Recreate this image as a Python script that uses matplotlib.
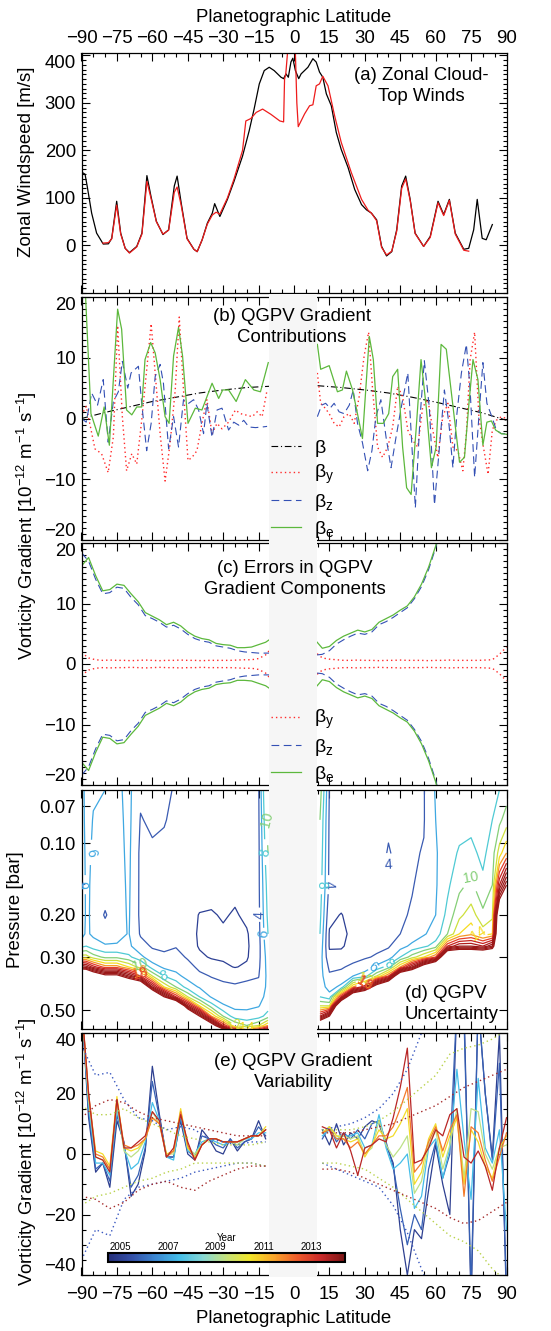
import numpy as np
import matplotlib
matplotlib.use('Agg')
import matplotlib.pyplot as plt
from matplotlib import colors, colorbar
from matplotlib.ticker import MultipleLocator, FixedLocator, NullLocator, FormatStrFormatter

plt.rcParams['font.family'] = ['Liberation Sans', 'DejaVu Sans']
plt.rcParams['mathtext.fontset'] = 'custom'
plt.rcParams['mathtext.rm'] = 'Liberation Sans'
plt.rcParams['mathtext.it'] = 'Liberation Sans:italic'
plt.rcParams['mathtext.bf'] = 'Liberation Sans:bold'

# ---------------- (a) zonal winds ----------------
wa_lat_black = [-89.5, -88.5, -87.6, -85.7, -83.6, -80.8, -78.6, -77.2, -75.1, -73.4, -71.5, -69.7,
                -66.6, -64.4, -62.3, -60.6, -58.3, -55.5, -53.1, -50.7, -49.5, -47.8, -45.3, -42.4,
                -41.0, -38.9, -36.7, -34.6, -33.6, -31.4, -28.2, -25.4, -21.8, -19.0, -16.9, -14.7,
                -12.6, -10.5, -8.4, -5.5, -4.4, -3.4, -2.4, -1.3, -0.5, 0.6, 2.0, 3.0, 5.9, 8.0, 9.4,
                10.8, 12.2, 13.7, 15.8, 17.9, 20.0, 22.9, 25.7, 28.6, 30.7, 32.8, 35.0, 37.1, 39.2,
                41.4, 43.5, 45.6, 47.3, 49.2, 51.3, 54.9, 57.7, 61.0, 63.4, 65.8, 68.3, 71.9, 74.0,
                76.1, 77.6, 79.7, 81.4, 84.0]
wa_black = [153, 150, 125, 68, 26, 3, 3.5, 15, 93, 26, -6, -15, -2, 26, 147, 104, 51, 23, 33, 125,
            146, 90, 15, -8, -13, 12, 47, 68, 88, 61, 97, 135, 188, 241, 287, 340, 368, 375, 368,
            354, 351, 361, 354, 386, 394, 368, 351, 361, 375, 393, 386, 365, 354, 319, 294, 238,
            202, 164, 118, 86, 75, 68, 54, -2, -22, -13, 33, 125, 146, 97, 26, -2, 19, 93, 65, 97,
            26, -8, -6, 33, 97, 15, 12, 44]
wa_lat_red = [-81.0, -78.6, -77.2, -75.1, -73.4, -71.5, -69.7, -66.6, -64.4, -62.3, -60.6, -58.3,
              -55.5, -53.1, -50.7, -49.5, -47.8, -45.3, -42.4, -41.0, -38.9, -36.7, -34.6, -33.0,
              -31.4, -28.2, -25.4, -21.8, -20.4, -18.3, -16.0, -13.3, -9.8, -6.0, -4.4, -4.0, -3.5,
              -2.5, -1.5, -0.5, 0.5, 1.2, 1.8, 3.0, 4.5, 6.6, 8.0, 9.4, 10.8, 12.2, 14.4, 17.2,
              20.0, 24.3, 28.6, 31.4, 32.8, 35.0, 37.1, 39.2, 41.4, 43.5, 45.6, 47.3, 49.2, 51.3,
              54.9, 57.7, 61.0, 63.4, 65.8, 68.3, 71.9, 74.0]
wa_red = [5, 6, 14, 85, 24, -6, -16, -3, 24, 135, 100, 50, 24, 32, 112, 123, 85, 14, -8, -13, 12,
          45, 64, 70, 66, 100, 140, 200, 262, 267, 280, 287, 276, 262, 260, 350, 360, 420, 430, 430,
          420, 300, 250, 262, 277, 294, 296, 336, 340, 356, 336, 273, 217, 153, 97, 74, 68, 52, -4,
          -20, -12, 30, 120, 140, 95, 25, -2, 17, 90, 63, 95, 24, -10, -12]

# ---------------- (b) QGPV gradient contributions ----------------
beta_lat = [-90, -80, -70, -60, -50, -40, -30, -20, -10.5, 10, 20, 30, 40, 50, 60, 70, 80, 90]
beta_val = [0.0, 1.0, 1.9, 2.8, 3.5, 4.2, 4.7, 5.1, 5.3, 5.4, 5.1, 4.7, 4.2, 3.5, 2.7, 1.8, 0.9, -0.3]

by_lat_s = [-90, -88, -84.3, -81.5, -78.7, -76.5, -74.7, -72.7, -70.9, -68.7, -66.6, -64.5, -62.4,
            -60.5, -58.8, -56.7, -54.6, -52.5, -50.3, -48.6, -46.8, -44.9, -43.2, -41.1, -39, -36.9,
            -34.7, -32.6, -30.5, -27.7, -24.8, -22.7, -20.6, -17.7, -15.6, -13.5, -11.4]
by_s = [0.5, 2.0, -5.0, -5.8, -8.9, -3.0, 15.3, 0.3, -8.6, -5.8, -7.5, -0.3, 8.0, 15.6, 7.5, -2.5,
        -10.3, -4.2, 4.7, 16.7, 4.7, -6.9, -6.4, -5.3, -0.8, 3.1, -2.5, -0.8, -1.7, -0.6, 1.4, 0.8,
        0.6, 0.3, 1.1, 0.3, 4.7]
by_lat_n = [9.9, 11.3, 13.2, 14.9, 17, 19.1, 21.2, 23.4, 25.5, 27.6, 29.7, 31.6, 33.3, 35.4, 37.5,
            39.7, 41.8, 43.9, 46, 48.2, 50.3, 52.4, 54.5, 56.7, 58.8, 60.9, 63, 65.2, 67.3, 69.4,
            71.5, 73, 74.6, 76.5, 78.3, 80, 82.2, 84, 85.7, 87.8, 90]
by_n = [7.5, 2.5, 1.7, 0.8, -0.8, -1.4, 0.3, 0.8, -0.8, 3.6, 10.3, 14.2, 4.7, -4.7, -6.4, -4.7,
        -1.4, 5.3, 3.6, -1.9, -3.6, -4.7, 1.9, 3.1, -1.9, -6.4, 0.3, 2.5, -4.7, -5.3, -8.6, -2.5,
        9.7, 14.2, 0.3, -4.2, -9.2, -1.9, -0.3, 0.3, 0.0]

bz_lat_s = [-90, -88, -85.7, -83.2, -80.8, -78.7, -76.5, -74.4, -72.7, -70.4, -69, -65.9, -64.5,
            -62.4, -60.5, -58.8, -56.7, -55.3, -53.1, -51, -48.9, -46.8, -44.6, -42.5, -40.4,
            -38.3, -36.9, -34.7, -32.6, -30.5, -27.7, -25.5, -23.4, -21.3, -19.1, -16.3, -13.5,
            -11.4]
bz_s = [0.0, -0.6, 4.2, 2.2, 6.4, -3.9, 2.8, 4.4, 9.4, 5.0, 7.5, 8.6, 2.5, -5.3, -0.8, 6.9, 8.9,
        5.8, -5.0, 0.3, -4.7, 3.1, 2.5, 3.1, 1.4, -2.5, 2.5, -3.1, 1.4, 1.7, -1.9, -0.6, -1.1, -0.3,
        -1.4, -1.5, -1.4, -1.3]
bz_lat_n = [9.9, 11.7, 13.4, 15.3, 17, 19.1, 21.2, 23.4, 25.1, 26.9, 29, 31.2, 33, 34.7, 36.8, 39,
            41.1, 43.2, 45.5, 48.2, 51.4, 53.4, 55.2, 57.3, 59.5, 61.6, 63.7, 65.6, 67.3, 69,
            70.9, 73, 74.6, 76.5, 78.3, 80, 81.7, 83.6, 85.7, 87.8, 90]
bz_n = [0.3, 2.2, 2.5, 1.7, 2.5, 1.1, 0.8, 2.2, 4.7, -0.8, -4.0, -8.6, -5.3, 0.3, 3.1, -3.1, -8.1,
        -3.1, 2.0, 7.5, -14.7, 0.3, 9.5, 1.9, -14.2, -4.7, 4.7, -0.8, -8.1, 0.8, 7.5, 12.2, 4.7,
        -9.7, 0.3, 9.2, 2.5, 0.5, -1.9, -2.5, -2.5]

be_lat_s = [-88.5, -86, -82.9, -80.4, -78.2, -74.7, -73, -70.9, -68.7, -66.6, -64.5, -63.1, -60.7,
            -58.8, -56.7, -54.6, -52.9, -51, -48.9, -47.2, -44.9, -41.8, -39, -34.7, -31.9, -30.2,
            -27.7, -24.5, -20.6, -17, -14.2, -10.9]
be_s = [22, 0.8, -2.9, 1.9, -4.4, 18.0, 14.7, 1.4, 0.6, 1.9, 1.9, 9.7, 12.5, 10.8, 6.4, 0.3, -0.8,
        10.3, 15.0, 10.3, -0.8, 1.7, 1.4, 5.8, 3.3, 4.7, 4.7, 2.8, 6.4, 4.7, 4.4, 9.2]
be_lat_n = [9.9, 11.3, 14.9, 17, 18.4, 20.5, 22.2, 24.8, 27.3, 29, 31.9, 33.6, 35.4, 37.8, 40.1,
            41.8, 43.9, 46, 47.7, 49.6, 51.7, 53.8, 56, 58.2, 60.2, 62.3, 64.5, 70.1, 72.2, 74.1,
            75.8, 77.9, 80, 81.7, 83.6, 85.4, 87.8, 90]
be_n = [12.2, 8.1, 8.7, 6.1, 4.4, 4.7, 7.8, 4.7, 0.0, -3.3, 13.5, 9.7, -0.8, -0.8, 0.8, 6.9, 8.1,
        -4.7, -11.4, -12.5, -1.9, 9.7, 1.9, -8.1, -4.7, 12.2, 11.4, -7.2, -6.4, 2.5, 9.7, 6.4, -4.4,
        -0.6, -0.4, -1.9, -2.5, -2.6]

# ---------------- (c) errors ----------------
c_lat_s = [-90, -87, -84, -81, -78, -75, -72, -69, -66, -63, -60, -57, -54, -51, -48, -45, -42, -39,
           -36, -33, -30, -27, -24, -21, -18, -15, -12, -10.5]
c_be_s = [16.2, 17.6, 14.6, 12.1, 12.3, 13.2, 13.0, 11.6, 10.3, 8.5, 7.9, 7.3, 6.5, 6.9, 6.3, 5.3,
          4.6, 4.2, 4.0, 3.4, 3.2, 3.1, 2.7, 2.7, 2.8, 3.2, 3.6, 4.0]
c_bz_s = [18.4, 17.0, 14.0, 11.6, 11.8, 12.7, 12.5, 11.0, 9.8, 8.0, 7.5, 6.9, 6.1, 6.4, 5.8, 4.9,
          4.2, 3.8, 3.6, 3.0, 2.8, 2.6, 2.2, 2.0, 1.9, 1.8, 1.8, 1.8]
c_by_s = [1.9, 1.0, 0.7, 0.6, 0.65, 0.6, 0.6, 0.55, 0.6, 0.65, 0.6, 0.55, 0.6, 0.6, 0.65, 0.6, 0.6,
          0.55, 0.6, 0.6, 0.6, 0.6, 0.65, 0.7, 0.7, 0.9, 1.5, 2.2]
c_lat_n = [9.8, 12, 15, 18, 21, 24, 27, 30, 33, 36, 39, 42, 45, 48, 51, 54, 57, 60, 63, 66, 69, 72,
           75, 78, 81, 84, 87, 90]
c_be_n = [3.6, 2.6, 2.9, 3.9, 4.6, 5.1, 5.6, 5.3, 5.7, 6.9, 7.5, 8.1, 8.9, 9.6, 11.1, 13.2, 16.0,
          19.5, 24, 30, 36, 42, 48, 54, 60, 66, 72, 78]
c_bz_n = [1.5, 1.6, 2.2, 3.3, 4.0, 4.6, 5.1, 4.9, 5.3, 6.5, 7.0, 7.7, 8.5, 9.3, 10.8, 12.8, 15.6,
          19.2, 24, 30, 36, 42, 48, 54, 60, 66, 72, 78]
c_by_n = [1.7, 1.0, 0.8, 0.7, 0.6, 0.6, 0.65, 0.6, 0.6, 0.55, 0.6, 0.6, 0.65, 0.6, 0.6, 0.6, 0.55,
          0.6, 0.6, 0.65, 0.6, 0.6, 0.6, 0.6, 0.65, 0.7, 1.6, 2.8]

# ---------------- (d) QGPV uncertainty (rows = pressure, one list per latitude) ----------------
d_pres = [0.06, 0.08, 0.11, 0.15, 0.20, 0.24, 0.27, 0.30, 0.33, 0.36, 0.40, 0.44, 0.48, 0.53, 0.58, 0.62]
d_lat_s = [-90, -88, -85, -80, -75, -70, -65, -60, -55, -50, -45, -40, -35, -30, -25, -20, -15, -11]
d_unc_s = [
    [5.0, 4.8, 4.2, 3.6, 3.7, 5.0, 7.5, 13, 26, 45, 45, 45, 45, 45, 45, 45],
    [6.8, 6.8, 6.7, 6.6, 6.5, 6.4, 8.0, 13, 25, 45, 45, 45, 45, 45, 45, 45],
    [6.2, 5.9, 5.6, 5.4, 5.4, 5.6, 7.0, 11, 21, 38, 45, 45, 45, 45, 45, 45],
    [6.0, 5.6, 5.3, 5.0, 3.8, 5.0, 6.2, 9.5, 17, 32, 45, 45, 45, 45, 45, 45],
    [5.6, 5.4, 5.3, 5.2, 5.2, 5.4, 6.2, 9.5, 17, 32, 45, 45, 45, 45, 45, 45],
    [6.5, 6.5, 6.4, 6.3, 6.2, 6.1, 6.4, 8.5, 14, 26, 45, 45, 45, 45, 45, 45],
    [4.3, 3.9, 3.6, 3.6, 3.6, 3.8, 4.7, 6.5, 11, 20, 42, 45, 45, 45, 45, 45],
    [4.6, 4.3, 3.7, 3.5, 3.6, 3.6, 3.8, 4.8, 7.0, 12, 24, 45, 45, 45, 45, 45],
    [4.4, 4.1, 3.6, 3.5, 3.5, 3.4, 3.7, 4.3, 5.6, 8.0, 14, 30, 45, 45, 45, 45],
    [3.8, 3.6, 3.5, 3.4, 3.3, 3.4, 3.9, 4.6, 5.4, 6.5, 10, 20, 45, 45, 45, 45],
    [3.6, 3.4, 3.3, 3.2, 2.8, 2.6, 3.0, 3.8, 4.6, 5.4, 7.0, 12, 24, 45, 45, 45],
    [3.5, 3.3, 3.2, 3.0, 1.9, 1.8, 1.8, 2.4, 3.6, 4.4, 5.8, 8.0, 14, 30, 45, 45],
    [3.4, 3.2, 3.1, 2.8, 1.8, 1.7, 1.7, 1.8, 3.0, 3.9, 4.8, 5.8, 9.0, 16, 35, 45],
    [3.4, 3.2, 3.0, 2.6, 2.2, 1.7, 1.6, 1.7, 2.4, 3.7, 4.3, 5.2, 6.2, 10, 20, 40],
    [3.5, 3.3, 3.0, 2.5, 1.8, 1.6, 1.5, 1.6, 1.9, 3.5, 4.2, 4.9, 5.6, 6.8, 12, 25],
    [3.6, 3.4, 3.1, 2.6, 2.4, 1.8, 1.7, 1.8, 2.3, 3.6, 4.5, 5.2, 5.7, 6.5, 10, 20],
    [3.8, 3.7, 3.6, 3.6, 3.5, 3.4, 3.3, 3.4, 3.6, 3.9, 4.6, 5.3, 5.9, 7.0, 12, 24],
    [12, 11, 10, 9.0, 8.5, 8.0, 7.5, 7.0, 6.8, 6.6, 6.5, 6.6, 7.0, 9.0, 16, 30],
]
d_lat_n = [11, 15, 20, 25, 30, 35, 40, 45, 50, 55, 60, 65, 70, 75, 80, 84, 87, 90]
d_unc_n = [
    [11, 10, 9.5, 9.0, 8.5, 8.0, 7.5, 7.0, 6.8, 6.8, 7.0, 8.0, 12, 22, 40, 45],
    [3.9, 3.7, 3.6, 3.5, 2.5, 1.8, 1.8, 2.5, 3.6, 4.3, 5.2, 6.8, 12, 30, 45, 45],
    [3.6, 3.5, 3.4, 3.3, 1.9, 1.8, 1.8, 2.6, 3.8, 4.6, 6.5, 20, 45, 45, 45, 45],
    [3.5, 3.4, 3.3, 3.3, 2.8, 2.2, 2.6, 3.4, 4.4, 6.0, 16, 40, 45, 45, 45, 45],
    [3.5, 3.4, 3.3, 3.3, 3.3, 3.2, 3.4, 3.8, 5.0, 7.0, 22, 45, 45, 45, 45, 45],
    [3.6, 3.5, 3.4, 3.4, 3.4, 3.4, 3.6, 4.2, 6.5, 12, 35, 45, 45, 45, 45, 45],
    [3.8, 3.8, 4.1, 3.8, 3.6, 3.6, 3.8, 5.0, 9.0, 18, 45, 45, 45, 45, 45, 45],
    [3.8, 3.7, 3.6, 3.6, 3.7, 4.0, 5.2, 8.0, 16, 40, 45, 45, 45, 45, 45, 45],
    [3.8, 3.8, 3.8, 3.9, 4.2, 4.8, 6.5, 11, 24, 45, 45, 45, 45, 45, 45, 45],
    [3.9, 3.9, 4.1, 4.5, 5.0, 5.8, 7.5, 14, 35, 45, 45, 45, 45, 45, 45, 45],
    [6.2, 6.0, 5.8, 5.8, 6.0, 6.8, 9.0, 18, 45, 45, 45, 45, 45, 45, 45, 45],
    [7.0, 7.0, 7.2, 7.6, 8.6, 10, 20, 45, 45, 45, 45, 45, 45, 45, 45, 45],
    [7.2, 7.4, 8.2, 9.5, 11.5, 14, 24, 45, 45, 45, 45, 45, 45, 45, 45, 45],
    [7.0, 7.5, 8.5, 10.5, 13, 15.5, 24, 45, 45, 45, 45, 45, 45, 45, 45, 45],
    [7.0, 7.0, 7.5, 8.5, 10.5, 13, 22, 45, 45, 45, 45, 45, 45, 45, 45, 45],
    [7.5, 8.0, 9.0, 10, 11.5, 14, 26, 45, 45, 45, 45, 45, 45, 45, 45, 45],
    [8.0, 9.5, 13, 22, 40, 45, 45, 45, 45, 45, 45, 45, 45, 45, 45, 45],
    [9.0, 11, 16, 30, 45, 45, 45, 45, 45, 45, 45, 45, 45, 45, 45, 45],
]
d_levels = list(range(2, 32, 2))
d_label_levels = [4, 6, 8, 10, 12, 14, 16, 18]

# ---------------- (e) QGPV gradient variability ----------------
e_lat_s = [-90, -87, -84, -81, -78, -75, -72, -69, -66, -63, -60, -57, -54, -51, -48, -45, -42,
           -39, -36, -33, -30, -27, -24, -21, -18, -15, -12]
e_lat_n = [12, 15, 18, 21, 24, 27, 30, 33, 36, 39, 42, 45, 48, 51, 54, 57, 60, 63, 66, 69, 72, 75,
           78, 81, 84, 87, 90]
e_years = [2005.0, 2005.8, 2007.5, 2009.3, 2010.6, 2012.0, 2013.6]
e_south = [
    [50, 12, -6, -3, -11, 11, 4, -14, -10, 1, 29, 13, -1, -1, 11, 0, -2, 8, 5, 1, 0, 5, 1, 4, 5, 11, 5],
    [50, 14, -5, -3, -9, 13, 3, -11, -7, 2, 24, 12, -1, -1, 12, 1, -1, 6, 5, 3, 2, 5, 2, 4, 5, 9, 6],
    [50, 16, -3, -3, -7, 15, 2, -5, -3, 4, 17, 11, -1, -2, 13, 1, 0, 4, 5, 4, 3, 4, 3, 5, 5, 7, 7],
    [50, 18, -1, -2, -5, 17, 1, -1, 1, 5, 14, 10, 0, 0, 14, 2, 0, 3, 5, 5, 4, 4, 3, 5, 6, 6, 8],
    [50, 19, 1, 0, -4, 19, 2, 1, 2, 5, 12, 10, 0, 1, 15, 2, -1, 3, 5, 5, 4, 4, 4, 5, 6, 6, 9],
    [50, 20, 0, -1, -5, 18, 3, 2, 3, 5, 12, 10, -1, 1, 14, 3, -2, 3, 5, 5, 4, 4, 4, 5, 6, 6, 8],
    [50, 20, -1, -2, -6, 18, 2, 2, 4, 6, 14, 11, -1, 2, 13, 4, -2, 3, 5, 5, 4, 4, 4, 5, 6, 6, 8],
]
e_north = [
    [8, 3, 10, 3, 7, 5, 9, 11, 10, 3, -3, -25, -40, -25, -28, -12, 3, -10, -20, 50, 50, -50, 50, 20, -1, 40, -50],
    [5, 9, 4, 7, 5, 8, 5, 10, 11, 4, -4, -18, -30, -20, -25, -5, 4, -8, 0, 50, 45, -45, 50, 20, -2, 30, -45],
    [6, 8, 5, 6, 6, 7, 2, 3, 13, 2, -5, -3, 0, -18, -14, 2, 5, -8, 2, 28, 5, -15, 25, 2, -3, 8, -25],
    [7, 9, 6, 6, 5, 6, 0, 2, 11, 3, -1, 2, 6, -13, -9, 3, 8, -5, 3, 15, -8, 15, 14, 0, -5, 2, 3],
    [7, 9, 6, 5, 4, 5, -1, 3, 8, 5, 6, 10, 15, -10, -6, 5, 10, -1, 6, 12, -10, 8, 4, -4, -8, 2, 6],
    [7, 8, 5, 5, 2, 4, 0, 3, 6, 6, 9, 15, 22, -6, -3, 4, 9, 1, 8, 13, -14, 9, 7, -2, -9, -1, 7],
    [9, 8, 2, 7, 1, -7, 2, 3, 5, 4, 12, 22, 35, -3, -2, 2, 8, 6, 13, 15, -1, -3, 1, -4, -12, 2, 12],
]
dot_lat_s = [-90, -84, -78, -72, -66, -60, -54, -48, -42, -36, -30, -24, -18, -12]
dot_lat_n = [12, 18, 24, 30, 36, 42, 48, 54, 60, 66, 72, 78, 84, 90]
blue_hi_s = [36, 26, 27, 18, 12, 11, 8, 9, 8, 5, 4, 3, 4, 4]
blue_lo_s = [-35, -25, -27, -15, -11, -10, -9, -8, -6, -5, -4, -3, -3, -4]
yg_hi_s = [16, 13, 13, 15, 12, 10, 8, 6, 5, 4, 3, 3, 3, 4]
yg_lo_s = [-17, -14, -13, -11, -9, -8, -6, -5, -3, -3, -3, -3, -3, -4]
dr_hi_s = [12, 16, 18, 17, 14, 12, 11, 10, 9, 8, 7, 6, 6, 6]
dr_lo_s = [-14, -15, -18, -16, -12, -10, -9, -11, -12, -9, -7, -5, -4, -4]
blue_hi_n = [8, 9, 10, 12, 15, 20, 28, 40, 55]
blue_lo_n = [-3, -5, -7, -9, -11, -17, -26, -38, -50]
yg_hi_n = [8, 8, 8, 9, 11, 14, 18, 22, 26, 33, 35, 36, 38, 41]
yg_lo_n = [-3, -3, -4, -5, -8, -11, -15, -19, -23, -27, -29, -32, -38, -42]
dr_hi_n = [7, 7, 7, 8, 9, 10, 12, 14, 16, 19, 22, 24, 26, 28]
dr_lo_n = [-5, -5, -6, -8, -10, -12, -14, -16, -18, -21, -23, -22, -19, -16]
cbar_ticks = [2005, 2007, 2009, 2011, 2013]

# ---------------- styling ----------------
FS = 13.4
W, H = 551.0, 1331.0
BAND = '#f6f6f6'
RED, BLUE, GREEN = '#ff2a2a', '#3350b4', '#5cb83c'
DOT = (0, (1, 2.2))
DASH = (0, (7, 4))
DASHDOT = (0, (6, 2.5, 1, 2.5))


def box(top, bottom, left=81.5, right=506.5):
    return [left / W, 1 - bottom / H, (right - left) / W, (bottom - top) / H]


def style(ax, ymajor=None, yminor=None):
    ax.set_xlim(-90, 90)
    ax.xaxis.set_major_locator(MultipleLocator(15))
    ax.xaxis.set_minor_locator(MultipleLocator(5))
    if ymajor is not None:
        ax.yaxis.set_major_locator(FixedLocator(ymajor))
        ax.yaxis.set_minor_locator(MultipleLocator(yminor))
    ax.tick_params(which='both', direction='in', top=True, right=True, labelsize=FS,
                   labelbottom=False, width=0.8, pad=4)
    ax.tick_params(which='major', length=5.8)
    ax.tick_params(which='minor', length=2.9)
    for s in ax.spines.values():
        s.set_linewidth(0.9)


def inset_end_labels(ax, bottom=True, top=True):
    # end labels sit inside the axis range, as in the original
    labs = ax.get_yticklabels()
    if bottom:
        labs[0].set_verticalalignment('bottom')
    if top:
        labs[-1].set_verticalalignment('top')


def band(ax, lo=-0.015, hi=1.015):
    ax.axvspan(-10.4, 9.6, ymin=lo, ymax=hi, color=BAND, lw=0, zorder=3.5, clip_on=False)


def ptext(ax, x, y, s, ha='center'):
    ax.text(x, y, s, transform=ax.transAxes, ha=ha, va='top', fontsize=FS,
            linespacing=1.3, zorder=6)


fig = plt.figure(figsize=(W / 100, H / 100), dpi=100)
axa = fig.add_axes(box(53, 293))
axb = fig.add_axes(box(297, 540))
axc = fig.add_axes(box(543, 785))
axd = fig.add_axes(box(790, 1029))
axe = fig.add_axes(box(1033, 1275))

# (a)
axa.plot(wa_lat_black, wa_black, color='black', lw=0.9)
axa.plot(wa_lat_red, wa_red, color='#ee1c1c', lw=0.9)
axa.set_ylim(-100, 405)
style(axa, [0, 100, 200, 300, 400], 10)
axa.tick_params(axis='x', labeltop=True)
axa.xaxis.set_label_position('top')
axa.set_xlabel('Planetographic Latitude', fontsize=FS, labelpad=6)
inset_end_labels(axa, bottom=False)
ptext(axa, 0.80, 0.94, '(a) Zonal Cloud-\nTop Winds')

# (b)
axb.plot(beta_lat[:9], beta_val[:9], color='black', ls=DASHDOT, lw=0.8, label='β')
axb.plot(beta_lat[9:], beta_val[9:], color='black', ls=DASHDOT, lw=0.8)
axb.plot(by_lat_s, by_s, color=RED, ls=DOT, lw=1.0, label='β$_\\mathregular{y}$')
axb.plot(by_lat_n, by_n, color=RED, ls=DOT, lw=1.0)
axb.plot(bz_lat_s, bz_s, color=BLUE, ls=DASH, lw=0.8, label='β$_\\mathregular{z}$')
axb.plot(bz_lat_n, bz_n, color=BLUE, ls=DASH, lw=0.8)
axb.plot(be_lat_s, be_s, color=GREEN, lw=0.9, label='β$_\\mathregular{e}$')
axb.plot(be_lat_n, be_n, color=GREEN, lw=0.9)
axb.set_ylim(-20, 20)
style(axb, [-20, -10, 0, 10, 20], 1)
inset_end_labels(axb)
band(axb, -0.015, 1.012)
axb.legend(loc='lower left', bbox_to_anchor=(0.445, 0.0), frameon=False, fontsize=14,
           handlelength=1.55, handletextpad=0.7, labelspacing=0.3, borderpad=0,
           borderaxespad=0)
ptext(axb, 0.495, 0.955, '(b) QGPV Gradient\nContributions')

# (c)
for sign in (1, -1):
    lab = sign > 0
    axc.plot(c_lat_s, sign * np.array(c_by_s), color=RED, ls=DOT, lw=1.0,
             label='β$_\\mathregular{y}$' if lab else None)
    axc.plot(c_lat_n, sign * np.array(c_by_n), color=RED, ls=DOT, lw=1.0)
    axc.plot(c_lat_s, sign * np.array(c_bz_s), color=BLUE, ls=DASH, lw=0.8,
             label='β$_\\mathregular{z}$' if lab else None)
    axc.plot(c_lat_n, sign * np.array(c_bz_n), color=BLUE, ls=DASH, lw=0.8)
    axc.plot(c_lat_s, sign * np.array(c_be_s), color=GREEN, lw=0.9,
             label='β$_\\mathregular{e}$' if lab else None)
    axc.plot(c_lat_n, sign * np.array(c_be_n), color=GREEN, lw=0.9)
axc.set_ylim(-20, 20)
style(axc, [-20, -10, 0, 10, 20], 1)
inset_end_labels(axc)
band(axc)
axc.legend(loc='lower left', bbox_to_anchor=(0.445, 0.0), frameon=False, fontsize=14,
           handlelength=1.55, handletextpad=0.7, labelspacing=0.3, borderpad=0,
           borderaxespad=0)
ptext(axc, 0.502, 0.93, '(c) Errors in QGPV\nGradient Components')

# (d)
d_anchor = [(2, '#2c3f94'), (4, '#3a5bb2'), (6, '#3fa9e3'), (8, '#4fcbd4'), (10, '#84cf78'),
            (12, '#cde03c'), (14, '#f7dc1e'), (16, '#f59426'), (18, '#e6402a'), (20, '#c4221f'),
            (24, '#9a1717')]
cmap_d = colors.LinearSegmentedColormap.from_list(
    'unc', [((v - 2) / 22.0, c) for v, c in d_anchor])
norm_d = colors.Normalize(2, 24)
for lats, table in ((d_lat_s, d_unc_s), (d_lat_n, d_unc_n)):
    Z = np.array(table).T
    cs = axd.contour(lats, d_pres, Z, levels=d_levels, cmap=cmap_d, norm=norm_d,
                     linewidths=0.9)
    axd.clabel(cs, levels=d_label_levels, fmt='%d', fontsize=10, inline=True,
               inline_spacing=2)
axd.set_yscale('log')
axd.set_ylim(0.6, 0.06)
style(axd)
axd.yaxis.set_major_locator(FixedLocator([0.07, 0.10, 0.20, 0.30, 0.50]))
axd.yaxis.set_major_formatter(FormatStrFormatter('%.2f'))
axd.yaxis.set_minor_locator(NullLocator())
band(axd)
ptext(axd, 0.761, 0.184, '(d) QGPV\nUncertainty', ha='left')

# (e)
year_colors = ['#262f7a', '#3450a8', '#3b87d2', '#44bde8', '#86d8d6', '#c6e27a', '#f2e62a',
               '#f9a52a', '#ee5a2a', '#c92a2a', '#7a1414']
cmap_y = colors.LinearSegmentedColormap.from_list('yr', year_colors)
norm_y = colors.Normalize(2004.5, 2014.4)
for yr, vs, vn in zip(e_years, e_south, e_north):
    col = cmap_y(norm_y(yr))
    axe.plot(e_lat_s, vs, color=col, lw=0.9)
    axe.plot(e_lat_n, vn, color=col, lw=0.9)
for col, hs, ls_, hn, ln in (('#3a58c0', blue_hi_s, blue_lo_s, blue_hi_n, blue_lo_n),
                             ('#b9d24a', yg_hi_s, yg_lo_s, yg_hi_n, yg_lo_n),
                             ('#a52a2a', dr_hi_s, dr_lo_s, dr_hi_n, dr_lo_n)):
    axe.plot(dot_lat_s, hs, color=col, ls=DOT, lw=1.0)
    axe.plot(dot_lat_s, ls_, color=col, ls=DOT, lw=1.0)
    axe.plot(dot_lat_n[:len(hn)], hn, color=col, ls=DOT, lw=1.0)
    axe.plot(dot_lat_n[:len(ln)], ln, color=col, ls=DOT, lw=1.0)
axe.set_ylim(-40, 40)
style(axe, [-40, -20, 0, 20, 40], 5)
axe.tick_params(axis='x', labelbottom=True, pad=8)
axe.set_xlabel('Planetographic Latitude', fontsize=FS, labelpad=5)
inset_end_labels(axe)
band(axe, -0.01, 1.015)
ptext(axe, 0.498, 0.917, '(e) QGPV Gradient\nVariability')

cax = fig.add_axes([108 / W, 1 - 1262 / H, 237 / W, 9 / H])
cb = colorbar.ColorbarBase(cax, cmap=cmap_y, norm=norm_y, orientation='horizontal',
                           ticks=cbar_ticks)
cax.xaxis.set_ticks_position('top')
cax.xaxis.set_label_position('top')
cax.tick_params(length=0, labelsize=7, pad=1)
cax.set_xlabel('Year', fontsize=7, labelpad=0.5)
cb.outline.set_linewidth(1.5)

# shared y labels
ylab = 'Vorticity Gradient [10$^{-12}$ m$^{-1}$ s$^{-1}$]'
fig.text(27 / W, 1 - 162 / H, 'Zonal Windspeed [m/s]', rotation=90, ha='center', va='center',
         fontsize=FS)
fig.text(27 / W, 1 - 526 / H, ylab, rotation=90, ha='center', va='center', fontsize=FS)
fig.text(16 / W, 1 - 910 / H, 'Pressure [bar]', rotation=90, ha='center', va='center',
         fontsize=FS)
fig.text(27 / W, 1 - 1152 / H, ylab, rotation=90, ha='center', va='center', fontsize=FS)

fig.savefig('out.png', dpi=100)
